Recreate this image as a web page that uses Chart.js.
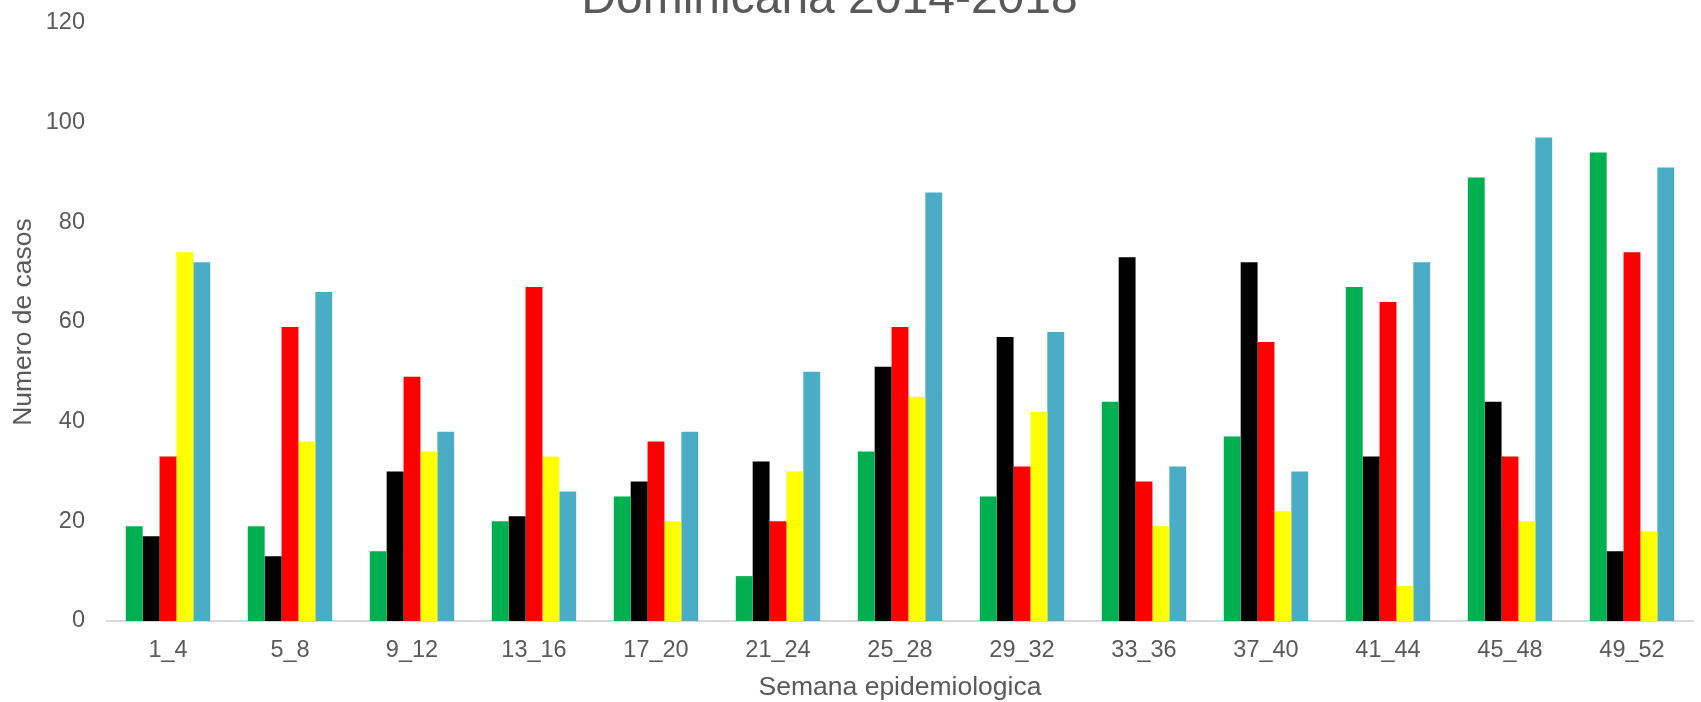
<!DOCTYPE html>
<html>
<head>
<meta charset="utf-8">
<script src="https://cdn.jsdelivr.net/npm/chart.js@4/dist/chart.umd.min.js"></script>
<style>
  html, body { margin: 0; padding: 0; background: #fff; }
  #wrap { width: 1701px; height: 702px; position: relative; }
</style>
</head>
<body>
<div id="wrap"><canvas id="dengue-chart"></canvas></div>
<script>
const semanas = ['1_4', '5_8', '9_12', '13_16', '17_20', '21_24', '25_28', '29_32', '33_36', '37_40', '41_44', '45_48', '49_52'];

const casos2014 = [19, 19, 14, 20, 25, 9, 34, 25, 44, 37, 67, 89, 94];
const casos2015 = [17, 13, 30, 21, 28, 32, 51, 57, 73, 72, 33, 44, 14];
const casos2016 = [33, 59, 49, 67, 36, 20, 59, 31, 28, 56, 64, 33, 74];
const casos2017 = [74, 36, 34, 33, 20, 30, 45, 42, 19, 22, 7, 20, 18];
const casos2018 = [72, 66, 38, 26, 38, 50, 86, 58, 31, 30, 72, 97, 91];

const yTicks = [0, 20, 40, 60, 80, 100, 120];

const tituloGrafico = 'Dominicana 2014-2018';
const textColor = '#595959';
const fontFamily = '"Liberation Sans", Arial, sans-serif';

// el titulo queda cortado arriba, como en la imagen original
const tituloCortado = {
    id: 'tituloCortado',
    afterDraw(chart) {
        const ctx = chart.ctx;
        ctx.save();
        ctx.font = '48px ' + fontFamily;
        ctx.fillStyle = textColor;
        ctx.textAlign = 'center';
        ctx.textBaseline = 'alphabetic';
        ctx.fillText(tituloGrafico, 829.5, 13);
        ctx.restore();
    }
};

function serie(label, data, color) {
    return {
        label,
        data,
        backgroundColor: color,
        borderWidth: 0,
        barPercentage: 1,
        categoryPercentage: 0.692
    };
}

const ctx = document.getElementById('dengue-chart');

new Chart(ctx, {
    type: 'bar',
    data: {
        labels: semanas,
        datasets: [
            serie('2014', casos2014, '#00B050'),
            serie('2015', casos2015, '#000000'),
            serie('2016', casos2016, '#FF0000'),
            serie('2017', casos2017, '#FFFF00'),
            serie('2018', casos2018, '#4BACC6')
        ]
    },
    options: {
        responsive: true,
        maintainAspectRatio: false,
        animation: false,
        layout: {
            padding: { top: 23, left: 0, right: 8, bottom: 0 }
        },
        scales: {
            x: {
                grid: { display: false },
                border: { display: true, color: '#D9D9D9', width: 2 },
                ticks: {
                    color: textColor,
                    padding: 7,
                    font: { family: fontFamily, size: 23.5 }
                },
                title: {
                    display: true,
                    text: 'Semana epidemiologica',
                    color: textColor,
                    padding: { top: 0, bottom: -2 },
                    font: { family: fontFamily, size: 26.5 }
                },
                afterFit(scale) {
                    scale.height = 81;
                }
            },
            y: {
                min: 0,
                max: 120,
                afterBuildTicks(scale) {
                    scale.ticks = yTicks.map((v) => ({ value: v }));
                },
                grid: { display: false, drawTicks: false },
                border: { display: false },
                ticks: {
                    color: textColor,
                    padding: 22,
                    font: { family: fontFamily, size: 23.5 }
                },
                title: {
                    display: true,
                    text: 'Numero de casos',
                    color: textColor,
                    padding: { top: 8, bottom: 0 },
                    font: { family: fontFamily, size: 26.5 }
                },
                afterFit(scale) {
                    scale.width = 107;
                    // que el margen superior lo fije el layout
                    scale.paddingTop = 0;
                    scale.paddingBottom = 0;
                }
            }
        },
        plugins: {
            legend: { display: false },
            tooltip: { enabled: false },
            title: { display: false }
        }
    },
    plugins: [tituloCortado]
});
</script>
</body>
</html>
